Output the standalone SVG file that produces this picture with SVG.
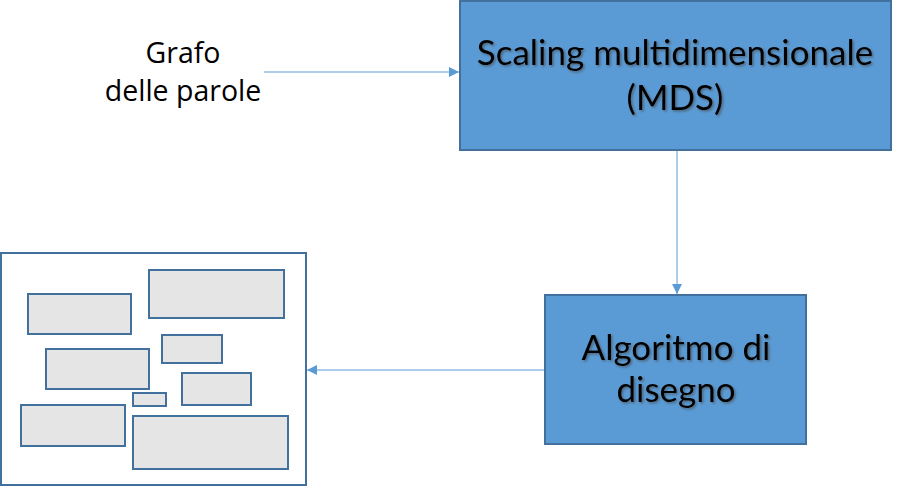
<svg xmlns="http://www.w3.org/2000/svg" width="910" height="487" viewBox="0 0 910 487">
<style>
.box{fill:#5B9BD5;stroke:#41719C;stroke-width:2}
.frame{fill:#FFFFFF;stroke:#41719C;stroke-width:2}
.cell{fill:#E5E5E5;stroke:#41719C;stroke-width:2}
.conn{stroke:#5B9BD5;stroke-width:1;fill:none}
.lbl{font-family:"Open Sans","Noto Sans",sans-serif;font-size:28.5px;fill:#000;text-anchor:middle}
.big{font-family:Lato,"Liberation Sans",sans-serif;font-size:35px;fill:#000;text-anchor:middle;filter:url(#sh)}
</style>
<defs>
<marker id="ah" viewBox="0 0 10 10" refX="10" refY="5" markerWidth="10" markerHeight="10" markerUnits="userSpaceOnUse" orient="auto">
<path d="M0,0 L10,5 L0,10 z" fill="#5B9BD5"/>
</marker>
<filter id="sh" x="-10%" y="-30%" width="120%" height="160%">
<feDropShadow dx="1.5" dy="1.5" stdDeviation="1" flood-color="#404040" flood-opacity="0.6"/>
</filter>
</defs>
<g id="connectors">
<line class="conn" x1="264" y1="72" x2="459" y2="72" marker-end="url(#ah)"/>
<line class="conn" x1="677" y1="151" x2="677" y2="294" marker-end="url(#ah)"/>
<line class="conn" x1="544" y1="370" x2="307" y2="370" marker-end="url(#ah)"/>
</g>
<g id="input">
<text class="lbl" x="183" y="63">Grafo</text>
<text class="lbl" x="183" y="101">delle parole</text>
</g>
<g id="mds">
<rect class="box" x="460" y="1" width="431" height="149"/>
<text class="big" x="675" y="65">Scaling multidimensionale</text>
<text class="big" x="675" y="110">(MDS)</text>
</g>
<g id="algoritmo">
<rect class="box" x="545" y="295" width="261" height="149"/>
<text class="big" x="676" y="360">Algoritmo di</text>
<text class="big" x="676" y="402">disegno</text>
</g>
<g id="layout">
<rect class="frame" x="1" y="253" width="305" height="232"/>
<rect class="cell" x="28" y="294" width="103" height="40"/>
<rect class="cell" x="149" y="270" width="135" height="48"/>
<rect class="cell" x="46" y="349" width="103" height="40"/>
<rect class="cell" x="162" y="335" width="60" height="28"/>
<rect class="cell" x="182" y="373" width="69" height="32"/>
<rect class="cell" x="133" y="393" width="33" height="13"/>
<rect class="cell" x="21" y="405" width="104" height="41"/>
<rect class="cell" x="133" y="416" width="155" height="53"/>
</g>
</svg>
